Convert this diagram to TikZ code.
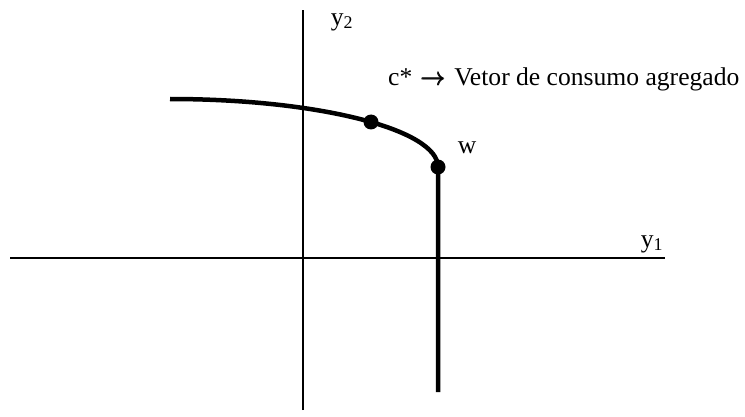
\documentclass[tikz,border=0pt]{standalone}
\usepackage{amsmath}
\usepackage{fontspec}
\setmainfont{Liberation Serif}
\usetikzlibrary{positioning, calc}

\begin{document}
\begin{tikzpicture}[x=1pt, y=1pt, axis/.style={line width=1.2pt}, curve/.style={line width=4.5pt}, dot/.style={circle, fill=black, inner sep=0pt, minimum size=15pt}, lbl/.style={font=\fontsize{25.6}{30}\selectfont, inner sep=0pt}]
    \useasboundingbox (0,0) rectangle (745,416);
    % Axes
    \coordinate (O) at (303,158);
    \coordinate (xl) at (10,158);
    \coordinate (xr) at (665,158);
    \coordinate (yt) at (303,406);
    \coordinate (yb) at (303,6);
    \draw[axis] (xl) -- (xr);
    \draw[axis] (yb) -- (yt);
    \node[lbl] (y1) at (652,172) {y\textsubscript{1}};
    \node[lbl] (y2) at (342,394) {y\textsubscript{2}};

    % Frontier
    \coordinate (start) at (170,317);
    \coordinate (bottom) at (438,24);
    \draw[curve] (start) arc[start angle=90, end angle=0, x radius=268, y radius=68] -- (bottom);

    % Points
    \node[dot] (c) at (371,294) {};
    \node[dot] (w) at (438,249) {};
    \node[lbl, anchor=west] (cl) at (388,337) {c*\,\,$\pmb{\rightarrow}$\,\,Vetor de consumo agregado};
    \node[lbl] (wl) at (467,268) {w};
\end{tikzpicture}
\end{document}
